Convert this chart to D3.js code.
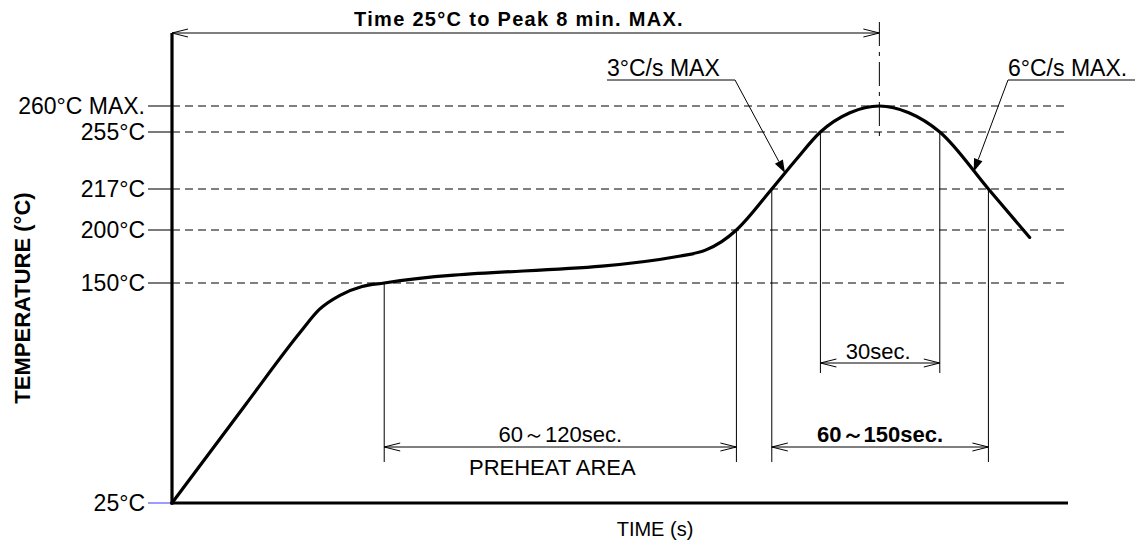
<!DOCTYPE html>
<html><head><meta charset="utf-8">
<script src="https://cdn.jsdelivr.net/npm/d3@7"></script>
<style>
body{margin:0;background:#fff}
svg{display:block}
text{font-family:"Liberation Sans",Arial,sans-serif;fill:#000}
</style>
</head><body>
<svg id="chart" width="1142" height="547"></svg>
<script>
// ---- data ----
const levelTemps  = [25, 150, 200, 217, 255, 260];
const levelLabels = ["25°C", "150°C", "200°C", "217°C", "255°C", "260°C MAX."];

// reflow profile (time in s, temperature in °C) – schematic
const curveTime = [0, 50, 87, 100, 114, 129, 144, 345, 362, 373, 383, 407, 423, 440, 460, 480, 500, 521, 554, 582];
const curveTemp = [25, 81, 122, 135, 143, 148, 150, 175.5, 181, 189, 200, 217, 236, 255, 258.7, 260, 258.7, 255, 217, 193];

// key instants (s)
const preheatStart = 144, preheatEnd = 383;
const liquidusUp = 407, liquidusDown = 554;
const peakUp = 440, peakDown = 521;
const peakTime = 480;
const rampUpPoint = 416, rampDownPoint = 544;

const titleText = "Time 25°C to Peak 8 min. MAX.";
const rampUpText = "3°C/s MAX";
const rampDownText = "6°C/s MAX.";
const preheatText = "60～120sec.";
const preheatName = "PREHEAT AREA";
const liquidusText = "60～150sec.";
const peakText = "30sec.";
const xTitle = "TIME (s)";
const yTitle = "TEMPERATURE (°C)";

// ---- drawing ----
const svg = d3.select("#chart");
const x = d3.scaleLinear().domain([0, 608]).range([172, 1068]);
const y = d3.scaleLinear().domain(levelTemps).range([503, 283, 230, 189, 132, 106]);
const tempAt = t => { // temperature on curve by linear lookup
  const i = d3.bisectRight(curveTime, t) - 1;
  const t0 = curveTime[i], t1 = curveTime[i + 1];
  return curveTemp[i] + (curveTemp[i + 1] - curveTemp[i]) * (t - t0) / (t1 - t0);
};

const g = svg.append("g");

// dashed reference lines
g.selectAll("line.ref").data(levelTemps.slice(1)).join("line")
  .attr("x1", x(0)).attr("x2", x(608))
  .attr("y1", d => y(d)).attr("y2", d => y(d))
  .attr("stroke", "#000").attr("stroke-width", 1).attr("stroke-dasharray", "8,5");

// tick stubs + labels
g.selectAll("line.stub").data(levelTemps).join("line")
  .attr("x1", 148).attr("x2", x(0))
  .attr("y1", d => y(d)).attr("y2", d => y(d))
  .attr("stroke", d => d === 25 ? "#5a5aff" : "#222").attr("stroke-width", 1.2);
g.selectAll("text.lvl").data(levelTemps).join("text")
  .attr("x", 145).attr("y", d => y(d)).attr("dy", "0.36em")
  .attr("text-anchor", "end").attr("font-size", 23)
  .text((d, i) => levelLabels[i]);

// axes
g.append("line").attr("x1", x(0)).attr("x2", x(0)).attr("y1", 33).attr("y2", y(25) + 1.5)
  .attr("stroke", "#000").attr("stroke-width", 3.2);
g.append("line").attr("x1", x(0) - 1.5).attr("x2", x(608)).attr("y1", y(25)).attr("y2", y(25))
  .attr("stroke", "#000").attr("stroke-width", 3.2);

// vertical guide lines
const guides = [
  [preheatStart, 462], [preheatEnd, 462], [liquidusUp, 462], [liquidusDown, 462],
  [peakUp, 373], [peakDown, 373]
];
g.selectAll("line.guide").data(guides).join("line")
  .attr("x1", d => x(d[0])).attr("x2", d => x(d[0]))
  .attr("y1", d => y(tempAt(d[0]))).attr("y2", d => d[1])
  .attr("stroke", "#000").attr("stroke-width", 1);

// profile curve
const line = d3.line().x((d, i) => x(curveTime[i])).y(d => y(d)).curve(d3.curveMonotoneX);
g.append("path").attr("d", line(curveTemp))
  .attr("fill", "none").attr("stroke", "#000").attr("stroke-width", 3.2)
  .attr("stroke-linejoin", "round").attr("stroke-linecap", "round");

// dimension arrows with open heads
function dimArrow(xa, xb, yy) {
  const gg = g.append("g").attr("stroke", "#000").attr("stroke-width", 1).attr("fill", "none");
  gg.append("line").attr("x1", xa).attr("x2", xb).attr("y1", yy).attr("y2", yy);
  gg.append("path").attr("d", `M${xa + 16},${yy - 4}L${xa},${yy}L${xa + 16},${yy + 4}`);
  gg.append("path").attr("d", `M${xb - 16},${yy - 4}L${xb},${yy}L${xb - 16},${yy + 4}`);
}
dimArrow(x(0), x(peakTime), 33);
dimArrow(x(preheatStart), x(preheatEnd), 447);
dimArrow(x(liquidusUp), x(liquidusDown), 447);
dimArrow(x(peakUp), x(peakDown), 363);

// title
g.append("text").attr("x", 519).attr("y", 26)
  .attr("text-anchor", "middle").attr("font-size", 20).attr("font-weight", "bold")
  .attr("letter-spacing", 1.3)
  .text(titleText);

// peak dash-dot line
g.append("line").attr("x1", x(peakTime)).attr("x2", x(peakTime)).attr("y1", 22).attr("y2", 142)
  .attr("stroke", "#000").attr("stroke-width", 1).attr("stroke-dasharray", "24,6,4,6");

// dimension texts
g.append("text").attr("x", (x(preheatStart) + x(preheatEnd)) / 2).attr("y", 442)
  .attr("text-anchor", "middle").attr("font-size", 22).text(preheatText);
g.append("text").attr("x", (x(preheatStart) + x(preheatEnd)) / 2 - 8).attr("y", 475)
  .attr("text-anchor", "middle").attr("font-size", 22).text(preheatName);
g.append("text").attr("x", (x(liquidusUp) + x(liquidusDown)) / 2).attr("y", 442)
  .attr("text-anchor", "middle").attr("font-size", 22).attr("font-weight", "bold").text(liquidusText);
g.append("text").attr("x", (x(peakUp) + x(peakDown)) / 2 - 2).attr("y", 359)
  .attr("text-anchor", "middle").attr("font-size", 22).text(peakText);

// leader callouts with filled arrowheads
function leader(text, tx, anchor, underX1, underX2, kneeX, tPoint) {
  const ly = 80;
  g.append("text").attr("x", tx).attr("y", ly - 4).attr("text-anchor", anchor)
    .attr("font-size", 23).text(text);
  g.append("line").attr("x1", underX1).attr("x2", underX2).attr("y1", ly).attr("y2", ly)
    .attr("stroke", "#000").attr("stroke-width", 1);
  const px = x(tPoint), py = y(tempAt(tPoint));
  const ang = Math.atan2(py - ly, px - kneeX);
  const L = 13, W = 4.5;
  const bx = px - L * Math.cos(ang), by = py - L * Math.sin(ang);
  g.append("line").attr("x1", kneeX).attr("y1", ly).attr("x2", bx).attr("y2", by)
    .attr("stroke", "#000").attr("stroke-width", 1);
  g.append("path").attr("d",
    `M${px},${py}L${bx + W * Math.sin(ang)},${by - W * Math.cos(ang)}L${bx - W * Math.sin(ang)},${by + W * Math.cos(ang)}Z`)
    .attr("fill", "#000");
}
leader(rampUpText, 607, "start", 607, 735, 735, rampUpPoint);
leader(rampDownText, 1008, "start", 1008, 1135, 1008, rampDownPoint);

// axis titles
g.append("text").attr("x", 655).attr("y", 536).attr("text-anchor", "middle")
  .attr("font-size", 20).text(xTitle);
g.append("text").attr("transform", "translate(30,298) rotate(-90)").attr("text-anchor", "middle")
  .attr("font-size", 22).attr("font-weight", "bold").text(yTitle);
</script>
</body></html>
